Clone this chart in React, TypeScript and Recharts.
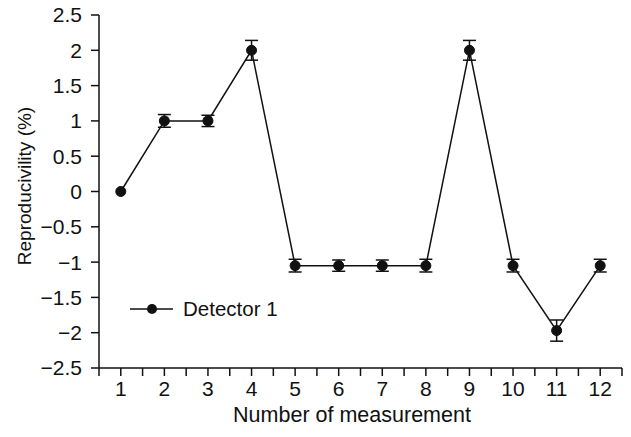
import React from 'react';
import { LineChart, Line, XAxis, YAxis, ErrorBar, Legend } from 'recharts';

const measurements = [1, 2, 3, 4, 5, 6, 7, 8, 9, 10, 11, 12];
const reproducibility = [0, 1, 1, 2, -1.05, -1.05, -1.05, -1.05, 2, -1.05, -1.97, -1.05];
const errors = [0, 0.09, 0.08, 0.14, 0.09, 0.08, 0.08, 0.09, 0.14, 0.09, 0.15, 0.09];
const xTicks = [0.5, 1, 1.5, 2, 2.5, 3, 3.5, 4, 4.5, 5, 5.5, 6, 6.5, 7, 7.5, 8, 8.5, 9, 9.5, 10, 10.5, 11, 11.5, 12, 12.5];
const yTicks = [-2.5, -2, -1.5, -1, -0.5, 0, 0.5, 1, 1.5, 2, 2.5];
const seriesName = 'Detector 1';

const data = measurements.map((m, i) => ({ x: m, y: reproducibility[i], err: errors[i] }));

const FONT = '"Liberation Sans", Arial, sans-serif';
const INK = '#111';

const fmtY = (v: number) => (v < 0 ? '\u2212' + String(Math.abs(v)) : String(v));
const fmtX = (v: number) => (Number.isInteger(v) ? String(v) : '');

const LegendContent = () => (
  <div style={{ display: 'flex', alignItems: 'center', fontFamily: FONT, fontSize: 20.5, color: INK, lineHeight: '22px' }}>
    <svg width={44} height={20} style={{ display: 'block' }}>
      <line x1={0} y1={10} x2={43} y2={10} stroke={INK} strokeWidth={1.5} />
      <circle cx={22} cy={10} r={5} fill={INK} />
    </svg>
    <span style={{ marginLeft: 9 }}>{seriesName}</span>
  </div>
);

export default function App() {
  return (
    <div style={{ position: 'absolute', left: 0, top: 0, width: 631, height: 437, background: '#fff' }}>
      <LineChart width={631} height={437} data={data} margin={{ top: 15, right: 9, bottom: 0, left: 0 }}>
        <XAxis
          dataKey="x"
          type="number"
          domain={[0.5, 12.5]}
          ticks={xTicks}
          tickFormatter={fmtX}
          interval={0}
          tickSize={8}
          tickMargin={5}
          height={69}
          axisLine={{ stroke: INK, strokeWidth: 1.5 }}
          tickLine={{ stroke: INK, strokeWidth: 1.5 }}
          tick={{ fill: INK, fontSize: 21, fontFamily: FONT }}
          label={{
            content: () => (
              <text x={352} y={422} textAnchor="middle" fill={INK} fontSize={21.5} fontFamily={FONT}>
                Number of measurement
              </text>
            ),
          }}
        />
        <YAxis
          type="number"
          domain={[-2.5, 2.5]}
          ticks={yTicks}
          tickFormatter={fmtY}
          interval={0}
          width={99}
          tickSize={8}
          tickMargin={9}
          axisLine={{ stroke: INK, strokeWidth: 1.5 }}
          tickLine={{ stroke: INK, strokeWidth: 1.5 }}
          tick={{ fill: INK, fontSize: 21, fontFamily: FONT }}
          label={{
            content: () => (
              <text
                x={24}
                y={186}
                transform="rotate(-90 24 186)"
                textAnchor="middle"
                dominantBaseline="central"
                fill={INK}
                fontSize={19}
                fontFamily={FONT}
              >
                Reproducivility (%)
              </text>
            ),
          }}
        />
        <Legend
          layout="horizontal"
          verticalAlign="middle"
          align="center"
          content={<LegendContent />}
          wrapperStyle={{ position: 'absolute', left: 130, top: 298, width: 'auto' }}
        />
        <Line
          name={seriesName}
          dataKey="y"
          stroke={INK}
          strokeWidth={1.5}
          dot={{ r: 5, fill: INK, stroke: INK, strokeWidth: 1 }}
          activeDot={false}
          isAnimationActive={false}
        >
          <ErrorBar dataKey="err" direction="y" width={6.5} stroke={INK} strokeWidth={1.5} isAnimationActive={false} />
        </Line>
      </LineChart>
    </div>
  );
}
